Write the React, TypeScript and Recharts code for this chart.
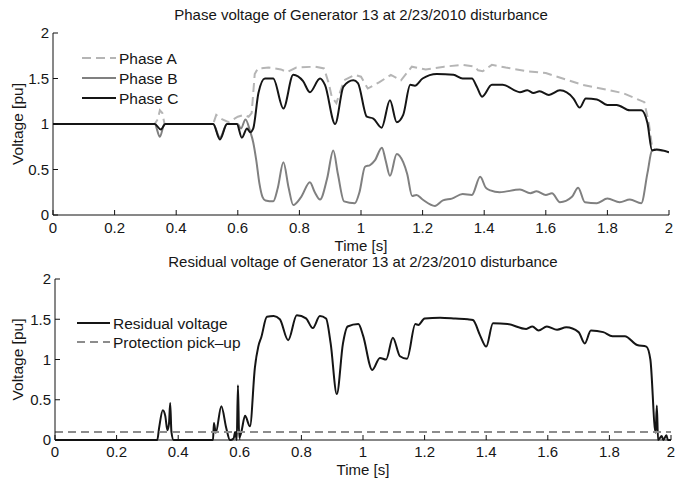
import { LineChart, Line, XAxis, YAxis, Legend } from "recharts";

const timeTicks = [0, 0.2, 0.4, 0.6, 0.8, 1, 1.2, 1.4, 1.6, 1.8, 2];
const voltTicks = [0, 0.5, 1, 1.5, 2];

const phaseATime = [0, 0.33, 0.34, 0.347, 0.355, 0.362, 0.52, 0.53, 0.55, 0.57, 0.6, 0.62, 0.635, 0.645, 0.655, 0.665, 0.7, 0.74, 0.76, 0.79, 0.85, 0.88, 0.895, 0.905, 0.92, 0.945, 0.98, 1.0, 1.022, 1.06, 1.097, 1.13, 1.165, 1.21, 1.27, 1.33, 1.37, 1.38, 1.395, 1.425, 1.47, 1.54, 1.6, 1.72, 1.85, 1.92, 1.935, 1.945, 1.955, 2.0];
const phaseAVolt = [1.0, 1.0, 1.05, 1.15, 1.12, 1.0, 1.0, 1.1, 1.05, 1.02, 1.08, 1.1, 1.08, 1.12, 1.55, 1.61, 1.62, 1.6, 1.57, 1.62, 1.63, 1.61, 1.45, 1.3, 1.23, 1.48, 1.54, 1.52, 1.39, 1.46, 1.54, 1.48, 1.63, 1.6, 1.63, 1.65, 1.63, 1.59, 1.58, 1.65, 1.62, 1.58, 1.56, 1.43, 1.34, 1.24, 1.0, 0.75, 0.72, 0.69];

const phaseBTime = [0, 0.33, 0.347, 0.362, 0.52, 0.542, 0.565, 0.6, 0.61, 0.625, 0.64, 0.65, 0.66, 0.67, 0.68, 0.69, 0.715, 0.73, 0.748, 0.765, 0.78, 0.806, 0.834, 0.85, 0.867, 0.89, 0.91, 0.925, 0.945, 0.98, 0.995, 1.013, 1.03, 1.045, 1.068, 1.08, 1.094, 1.116, 1.137, 1.15, 1.166, 1.18, 1.2, 1.24, 1.266, 1.295, 1.33, 1.36, 1.387, 1.405, 1.42, 1.45, 1.516, 1.55, 1.57, 1.6, 1.62, 1.646, 1.685, 1.705, 1.727, 1.766, 1.8, 1.84, 1.873, 1.91, 1.93, 1.945, 1.955];
const phaseBVolt = [1.0, 1.0, 0.86, 1.0, 1.0, 0.85, 1.0, 1.0, 0.95, 1.05, 0.92, 0.8, 0.6, 0.35, 0.2, 0.16, 0.15, 0.3, 0.58, 0.3, 0.11, 0.2, 0.36, 0.25, 0.17, 0.4, 0.71, 0.45, 0.15, 0.13, 0.25, 0.53, 0.55, 0.6, 0.74, 0.6, 0.43, 0.67, 0.58, 0.45, 0.21, 0.22, 0.17, 0.1, 0.16, 0.18, 0.23, 0.22, 0.42, 0.3, 0.27, 0.25, 0.28, 0.24, 0.26, 0.22, 0.24, 0.14, 0.2, 0.3, 0.14, 0.13, 0.18, 0.14, 0.17, 0.13, 0.46, 0.71, 0.72];

const phaseCTime = [0, 0.33, 0.35, 0.365, 0.52, 0.542, 0.565, 0.597, 0.613, 0.63, 0.64, 0.65, 0.667, 0.688, 0.715, 0.748, 0.78, 0.812, 0.834, 0.867, 0.883, 0.916, 0.943, 0.975, 0.99, 1.019, 1.04, 1.067, 1.094, 1.116, 1.137, 1.16, 1.175, 1.2, 1.246, 1.3, 1.33, 1.36, 1.376, 1.393, 1.425, 1.46, 1.516, 1.54, 1.56, 1.58, 1.61, 1.646, 1.69, 1.71, 1.73, 1.766, 1.8, 1.83, 1.873, 1.91, 1.93, 1.945, 1.96, 2.0];
const phaseCVolt = [1.0, 1.0, 0.94, 1.0, 1.0, 0.83, 1.0, 1.0, 0.85, 0.95, 0.91, 0.95, 1.34, 1.5, 1.5, 1.17, 1.54, 1.47, 1.35, 1.5, 1.43, 1.0, 1.41, 1.48, 1.45, 1.08, 1.06, 0.96, 1.26, 1.02, 1.1, 1.43, 1.42, 1.5, 1.55, 1.54, 1.5, 1.5, 1.41, 1.3, 1.43, 1.43, 1.35, 1.37, 1.34, 1.36, 1.32, 1.37, 1.28, 1.18, 1.28, 1.27, 1.21, 1.21, 1.15, 1.15, 1.01, 0.71, 0.72, 0.69];

const residualTime = [0, 0.332, 0.338, 0.35, 0.358, 0.365, 0.37, 0.374, 0.378, 0.385, 0.513, 0.516, 0.522, 0.54, 0.556, 0.568, 0.58, 0.585, 0.59, 0.594, 0.598, 0.605, 0.617, 0.633, 0.649, 0.66, 0.67, 0.688, 0.71, 0.73, 0.757, 0.785, 0.815, 0.837, 0.86, 0.88, 0.895, 0.915, 0.935, 0.95, 0.985, 1.0, 1.03, 1.055, 1.075, 1.097, 1.12, 1.143, 1.17, 1.18, 1.2, 1.25, 1.3, 1.34, 1.357, 1.38, 1.4, 1.422, 1.47, 1.53, 1.55, 1.57, 1.597, 1.63, 1.66, 1.7, 1.72, 1.74, 1.78, 1.81, 1.85, 1.89, 1.92, 1.933, 1.95, 1.954, 1.958, 1.97, 1.975, 1.985, 1.99, 2.0];
const residualVolt = [0, 0, 0.15, 0.37, 0.3, 0.12, 0.2, 0.46, 0.1, 0, 0, 0.21, 0.09, 0.42, 0.15, 0, 0.02, 0.1, 0, 0.68, 0.03, 0.1, 0.3, 0.17, 0.9, 1.16, 1.28, 1.53, 1.54, 1.5, 1.24, 1.55, 1.51, 1.39, 1.54, 1.51, 1.2, 0.57, 1.2, 1.41, 1.44, 1.3, 0.87, 1.02, 1.0, 1.27, 1.04, 1.01, 1.44, 1.43, 1.51, 1.52, 1.51, 1.5, 1.49, 1.3, 1.16, 1.45, 1.44, 1.38, 1.41, 1.36, 1.41, 1.37, 1.4, 1.34, 1.2, 1.36, 1.34, 1.29, 1.29, 1.18, 1.16, 1.0, 0.09, 0.43, 0, 0.05, 0, 0.06, 0, 0];

const pickupTime = [0, 2];
const pickupVolt = [0.1, 0.1];

const zip = (ts: number[], vs: number[]) => ts.map((t, i) => ({ t, v: vs[i] }));

const FONT = "'Liberation Sans', Arial, Helvetica, sans-serif";
const TEXT = "#161616";
const tickStyle = { fontSize: 15, fill: TEXT, fontFamily: FONT };

const legendStyles: Record<string, { color: string; dash?: string }> = {
  "Phase A": { color: "#b5b5b5", dash: "9 5" },
  "Phase B": { color: "#808080" },
  "Phase C": { color: "#151515" },
  "Residual voltage": { color: "#151515" },
  "Protection pick\u2013up": { color: "#8c8c8c", dash: "8 5" },
};

function LegendBox({ names, lineLen, rowGap }: { names: string[]; lineLen: number; rowGap: number }) {
  return (
    <svg width={240} height={names.length * rowGap + 4} style={{ display: "block" }}>
      {names.map((n, i) => {
        const s = legendStyles[n];
        const y = 10 + i * rowGap;
        return (
          <g key={n}>
            <line x1={2} x2={2 + lineLen} y1={y} y2={y} stroke={s.color} strokeWidth={2} strokeDasharray={s.dash} />
            <text x={lineLen + 5} y={y} dominantBaseline="central" fontSize={15.5} fontFamily={FONT} fill={TEXT}>
              {n}
            </text>
          </g>
        );
      })}
    </svg>
  );
}

const yLabel = (props: any) => {
  const vb = props.viewBox || { x: 0, y: 0, width: 0, height: 0 };
  const cx = 17;
  const cy = vb.y + vb.height / 2;
  return (
    <text x={cx} y={cy} transform={`rotate(-90 ${cx} ${cy})`} textAnchor="middle" dominantBaseline="central" fontSize={15.5} fontFamily={FONT} fill={TEXT}>
      Voltage [pu]
    </text>
  );
};

const titleStyle = (top: number, left: number) =>
  ({
    position: "absolute",
    top,
    left,
    width: 616,
    textAlign: "center",
    fontSize: 15,
    lineHeight: "16px",
    color: TEXT,
    whiteSpace: "nowrap",
  }) as const;

export default function App() {
  const a = zip(phaseATime, phaseAVolt);
  const b = zip(phaseBTime, phaseBVolt);
  const c = zip(phaseCTime, phaseCVolt);
  const r = zip(residualTime, residualVolt);
  const p = zip(pickupTime, pickupVolt);

  return (
    <div style={{ position: "absolute", left: 0, top: 0, width: 675, height: 479, background: "#fff", fontFamily: FONT, overflow: "hidden" }}>
      <div style={{ position: "absolute", left: 0, top: 0 }}>
        <LineChart width={675} height={254} margin={{ top: 33, right: 6, bottom: 0, left: 13 }}>
          <XAxis
            xAxisId="b"
            dataKey="t"
            type="number"
            domain={[0, 2]}
            ticks={timeTicks}
            interval={0}
            height={39}
            tickSize={-5}
            tickMargin={12}
            tick={tickStyle}
            stroke="#111"
            allowDataOverflow
            label={{ value: "Time [s]", position: "insideBottom", offset: 3, fontSize: 15, fill: TEXT, fontFamily: FONT }}
          />
          <XAxis xAxisId="top" orientation="top" dataKey="t" type="number" domain={[0, 2]} ticks={timeTicks} interval={0} height={0} tickSize={-5} tick={false} stroke="#111" />
          <YAxis
            yAxisId="l"
            type="number"
            domain={[0, 2]}
            ticks={voltTicks}
            interval={0}
            width={40}
            tickSize={-5}
            tickMargin={9}
            tick={tickStyle}
            stroke="#111"
            label={{ content: yLabel }}
          />
          <YAxis yAxisId="r" orientation="right" type="number" domain={[0, 2]} ticks={voltTicks} interval={0} width={0} tickSize={-5} tick={false} stroke="#111" />
          <Legend
            layout="vertical"
            align="center"
            verticalAlign="middle"
            wrapperStyle={{ left: 80, top: 48, width: 240 }}
            content={() => <LegendBox names={["Phase A", "Phase B", "Phase C"]} lineLen={34} rowGap={20} />}
          />
          <Line xAxisId="b" yAxisId="l" data={a} dataKey="v" name="Phase A" type="linear" stroke="#b5b5b5" strokeWidth={2} strokeDasharray="9 5" dot={false} activeDot={false} isAnimationActive={false} />
          <Line xAxisId="b" yAxisId="l" data={b} dataKey="v" name="Phase B" type="monotone" stroke="#808080" strokeWidth={2} dot={false} activeDot={false} isAnimationActive={false} />
          <Line xAxisId="b" yAxisId="l" data={c} dataKey="v" name="Phase C" type="monotone" stroke="#151515" strokeWidth={2} dot={false} activeDot={false} isAnimationActive={false} />
        </LineChart>
      </div>
      <div style={titleStyle(7, 53)}>Phase voltage of Generator 13 at 2/23/2010 disturbance</div>
      <div style={{ position: "absolute", left: 0, top: 252 }}>
        <LineChart width={675} height={227} margin={{ top: 27, right: 4, bottom: 0, left: 15 }}>
          <XAxis
            xAxisId="b"
            dataKey="t"
            type="number"
            domain={[0, 2]}
            ticks={timeTicks}
            interval={0}
            height={39}
            tickSize={-5}
            tickMargin={11}
            tick={tickStyle}
            stroke="#111"
            allowDataOverflow
            label={{ value: "Time [s]", position: "insideBottom", offset: 4, fontSize: 15, fill: TEXT, fontFamily: FONT }}
          />
          <XAxis xAxisId="top" orientation="top" dataKey="t" type="number" domain={[0, 2]} ticks={timeTicks} interval={0} height={0} tickSize={-5} tick={false} stroke="#111" />
          <YAxis
            yAxisId="l"
            type="number"
            domain={[0, 2]}
            ticks={voltTicks}
            interval={0}
            width={40}
            tickSize={-5}
            tickMargin={9}
            tick={tickStyle}
            stroke="#111"
            label={{ content: yLabel }}
          />
          <YAxis yAxisId="r" orientation="right" type="number" domain={[0, 2]} ticks={voltTicks} interval={0} width={0} tickSize={-5} tick={false} stroke="#111" />
          <Legend
            layout="vertical"
            align="center"
            verticalAlign="middle"
            wrapperStyle={{ left: 75, top: 61, width: 240 }}
            content={() => <LegendBox names={["Residual voltage", "Protection pick\u2013up"]} lineLen={33} rowGap={19} />}
          />
          <Line xAxisId="b" yAxisId="l" data={r} dataKey="v" name="Residual voltage" type="monotone" stroke="#151515" strokeWidth={2} dot={false} activeDot={false} isAnimationActive={false} />
          <Line xAxisId="b" yAxisId="l" data={p} dataKey="v" name="Protection pick-up" type="linear" stroke="#8c8c8c" strokeWidth={2} strokeDasharray="8 5" dot={false} activeDot={false} isAnimationActive={false} />
        </LineChart>
      </div>
      <div style={titleStyle(254, 55)}>Residual voltage of Generator 13 at 2/23/2010 disturbance</div>
    </div>
  );
}
